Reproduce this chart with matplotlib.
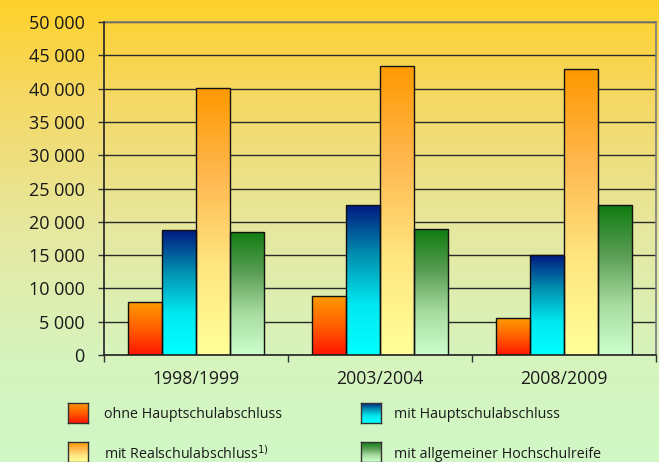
import numpy as np
import matplotlib
matplotlib.use("Agg")
import matplotlib.pyplot as plt
from matplotlib.colors import LinearSegmentedColormap

plt.rcParams['font.family'] = ['Open Sans', 'DejaVu Sans']

categories = ["1998/1999", "2003/2004", "2008/2009"]
series_names = ["ohne Hauptschulabschluss", "mit Hauptschulabschluss",
                "mit Realschulabschluss$^{1)}$", "mit allgemeiner Hochschulreife"]
ohne = [8000, 8900, 5500]
haupt = [18700, 22500, 15000]
real = [40100, 43400, 42900]
abitur = [18500, 18900, 22500]
values = [ohne, haupt, real, abitur]
yticks = [0, 5000, 10000, 15000, 20000, 25000, 30000, 35000, 40000, 45000, 50000]
ytick_labels = ["0", "5 000", "10 000", "15 000", "20 000", "25 000", "30 000",
                "35 000", "40 000", "45 000", "50 000"]

# gradients (bottom -> top)
grads = [
    ["#FF1500", "#FF6000", "#FF9C00"],
    ["#00FFFF", "#00E8F0", "#0090B0", "#001A80"],
    ["#FFFF99", "#FFE680", "#FFB850", "#FF9900"],
    ["#CCFFCC", "#A8DCA0", "#5A9E55", "#107C10"],
]
cmaps = [LinearSegmentedColormap.from_list(f"g{i}", g) for i, g in enumerate(grads)]

W, H = 659, 462
fig = plt.figure(figsize=(W / 100, H / 100), dpi=100)

# background gradient
bg = fig.add_axes([0, 0, 1, 1])
bg.set_axis_off()
bg_cmap = LinearSegmentedColormap.from_list(
    "bg", [(0.0, "#D0F8C6"), (0.22, "#D6F4BE"), (0.5, "#E6E8A0"), (0.8, "#F6D862"), (1.0, "#FED12A")])
bg.imshow(np.linspace(0, 1, 256).reshape(-1, 1), aspect="auto", cmap=bg_cmap,
          extent=[0, 1, 0, 1], origin="lower")
bg.set_xlim(0, 1)
bg.set_ylim(0, 1)

ax = fig.add_axes([104 / W, 1 - 355 / H, (656 - 104) / W, (355 - 22) / H])
ax.patch.set_alpha(0)
ax.set_xlim(-0.5, 2.5)
ax.set_ylim(0, 50000)

w = 0.185
x = np.arange(len(categories))
for i, vals in enumerate(values):
    offs = (i - 1.5) * w
    bars = ax.bar(x + offs, vals, width=w, facecolor="none", edgecolor="#111111",
                  linewidth=1.0, zorder=4)
    for b in bars:
        x0, y0 = b.get_x(), b.get_y()
        bw, bh = b.get_width(), b.get_height()
        im = ax.imshow(np.linspace(0, 1, 256).reshape(-1, 1), aspect="auto",
                       cmap=cmaps[i], extent=[x0, x0 + bw, y0, y0 + bh],
                       origin="lower", zorder=3)
        im.set_clip_path(b)
ax.set_xlim(-0.5, 2.5)
ax.set_ylim(0, 50000)

ax.set_yticks(yticks)
ax.set_yticklabels(ytick_labels, fontsize=13, color="#1a1a1a")
ax.yaxis.grid(True, color="#2a2a2a", linewidth=1.0, zorder=1)
ax.set_axisbelow(True)
ax.tick_params(axis="y", length=4, width=1, color="#333333", pad=10)

ax.set_xticks([-0.5, 0.5, 1.5, 2.5])
ax.set_xticklabels([])
ax.set_xticks(x, minor=True)
ax.set_xticklabels(categories, minor=True, fontsize=12.7, color="#1a1a1a")
ax.tick_params(axis="x", which="major", length=5, width=1, color="#333333")
ax.tick_params(axis="x", which="minor", length=0, pad=11)

for s in ["left", "bottom"]:
    ax.spines[s].set_color("#222222")
    ax.spines[s].set_linewidth(1.2)
for s in ["top", "right"]:
    ax.spines[s].set_color("#7a7a7a")
    ax.spines[s].set_linewidth(1.2)
ax.spines["left"].set_zorder(5)
ax.spines["bottom"].set_zorder(5)

# legend
leg_pos = [(68, 403), (361, 403), (68, 442), (361, 442)]
text_x = [104, 394, 104, 394]
for i, name in enumerate(series_names):
    lx, ly = leg_pos[i]
    sw = fig.add_axes([lx / W, 1 - (ly + 20) / H, 20 / W, 20 / H])
    sw.imshow(np.linspace(0, 1, 64).reshape(-1, 1), aspect="auto", cmap=cmaps[i],
              extent=[0, 1, 0, 1], origin="lower")
    sw.set_xticks([])
    sw.set_yticks([])
    for s in sw.spines.values():
        s.set_color("#333333")
        s.set_linewidth(1.0)
    fig.text(text_x[i] / W, 1 - (ly + 12) / H, name, fontsize=10.3,
             color="#1a1a1a", va="center", ha="left")

fig.savefig("out.png", dpi=100)
